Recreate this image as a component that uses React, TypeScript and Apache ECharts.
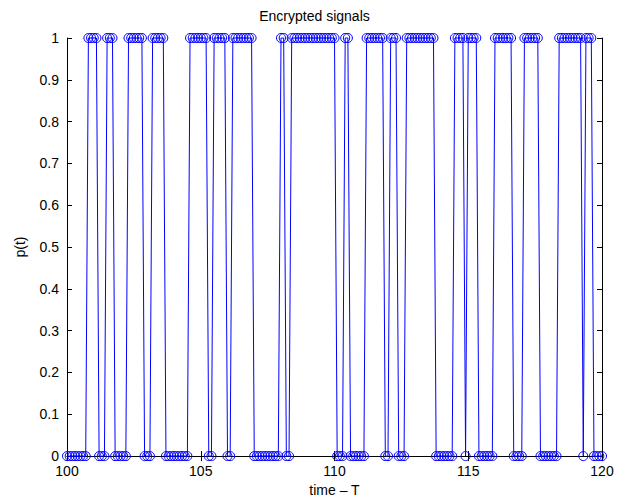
import React, { useEffect, useRef } from "react";
import * as echarts from "echarts";

// Sampled signal p(t): one string per unit of time, one char per 0.1 step
const sampleStart = 100;
const sampleStep = 0.1;
const sampleBits = [
  "0000000011", // 100
  "1100011100", // 101
  "0001111110", // 102
  "0011111000", // 103
  "0000001111", // 104
  "1110011111", // 105
  "0011111111", // 106
  "0000000000", // 107
  "1100111111", // 108
  "1111111111", // 109
  "1000110000", // 110
  "0011111110", // 111
  "0111000111", // 112
  "1111111100", // 113
  "0000011110", // 114
  "1111000000", // 115
  "1111111000", // 116
  "0111111000", // 117
  "0000111111", // 118
  "1110111000", // 119
  "0", // 120
];

const xMin = 100;
const xMax = 120;
const xInterval = 5;
const yMin = 0;
const yMax = 1;
const yInterval = 0.1;

const titleText = "Encrypted signals";
const xName = "time \u2013 T";
const yName = "p(t)";

export default function App() {
  const ref = useRef<HTMLDivElement>(null);
  useEffect(() => {
    if (!ref.current) return;
    const chart = echarts.init(ref.current, undefined, { renderer: "svg" });
    const values = sampleBits.join("").split("").map((c) => Number(c));
    const data = values.map((v, i) => [
      Math.round((sampleStart + i * sampleStep) * 10) / 10,
      v,
    ]);
    const font = "'Liberation Sans', Arial, Helvetica, sans-serif";
    const axisLine = { show: true, lineStyle: { color: "#000", width: 1 } };
    const tick = { show: true, inside: true, length: 5, lineStyle: { color: "#000" } };
    chart.setOption({
      animation: false,
      backgroundColor: "#fff",
      title: {
        text: titleText,
        left: "center",
        top: 4,
        textStyle: { fontFamily: font, fontSize: 14, fontWeight: "normal", color: "#000" },
      },
      grid: { left: 67, right: 27, top: 38, bottom: 42, containLabel: false },
      xAxis: [
        {
          type: "value",
          min: xMin,
          max: xMax,
          interval: xInterval,
          position: "bottom",
          name: xName,
          nameLocation: "middle",
          nameGap: 25,
          nameTextStyle: { fontFamily: font, fontSize: 14, color: "#000" },
          axisLine,
          axisTick: tick,
          axisLabel: { fontFamily: font, fontSize: 14, color: "#000", margin: 8 },
          splitLine: { show: false },
        },
        {
          type: "value",
          min: xMin,
          max: xMax,
          interval: xInterval,
          position: "top",
          axisLine,
          axisTick: tick,
          axisLabel: { show: false },
          splitLine: { show: false },
        },
      ],
      yAxis: [
        {
          type: "value",
          min: yMin,
          max: yMax,
          interval: yInterval,
          position: "left",
          name: yName,
          nameLocation: "middle",
          nameGap: 40,
          nameTextStyle: { fontFamily: font, fontSize: 14, color: "#000" },
          axisLine,
          axisTick: tick,
          axisLabel: { fontFamily: font, fontSize: 14, color: "#000", margin: 8 },
          splitLine: { show: false },
        },
        {
          type: "value",
          min: yMin,
          max: yMax,
          interval: yInterval,
          position: "right",
          axisLine,
          axisTick: tick,
          axisLabel: { show: false },
          splitLine: { show: false },
        },
      ],
      series: [
        {
          type: "line",
          data,
          symbol: "circle",
          symbolSize: 9,
          showSymbol: true,
          showAllSymbol: true,
          clip: false,
          lineStyle: { color: "#0000ff", width: 1 },
          itemStyle: { color: "rgba(0,0,0,0)", borderColor: "#0000ff", borderWidth: 1 },
          emphasis: { disabled: true },
        },
      ],
    });
    return () => chart.dispose();
  }, []);
  return (
    <div
      ref={ref}
      style={{ position: "fixed", left: 0, top: 0, width: 629, height: 502, background: "#fff" }}
    />
  );
}
